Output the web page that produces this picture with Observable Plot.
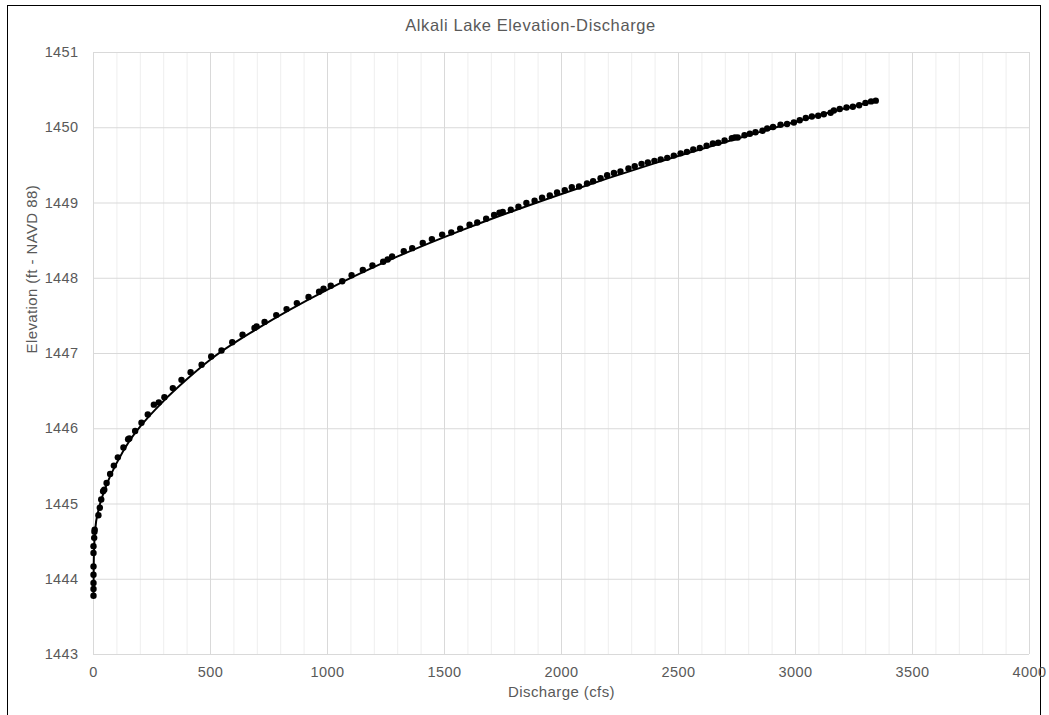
<!DOCTYPE html>
<html>
<head>
<meta charset="utf-8">
<script src="https://cdn.jsdelivr.net/npm/d3@7"></script>
<script src="https://cdn.jsdelivr.net/npm/@observablehq/plot@0.6"></script>
<style>
  html, body { margin: 0; padding: 0; background: #fff; overflow: hidden; }
  body { width: 1049px; height: 715px; position: relative; font-family: "Liberation Sans", Arial, sans-serif; }
  #frame { position: absolute; left: 7px; top: 5px; width: 1034px; height: 730px; border: 1px solid #000; box-sizing: border-box; }
  #title { position: absolute; left: 14px; width: 1033px; top: 16px; text-align: center; font-size: 16.5px; letter-spacing: 0.6px; color: #595959; }
  #chart { position: absolute; left: 0; top: 0; }
</style>
</head>
<body>
<div id="frame"></div>
<div id="chart"></div>
<div id="title">Alkali Lake Elevation-Discharge</div>
<script>
// Observed points: discharge (cfs) and lake elevation (ft - NAVD 88)
const discharge = [0, 0, 0, 0, 0, 0, 0, 3, 4, 5, 21, 27, 33, 41, 46, 56, 71, 87, 104, 128, 148, 153, 178, 205, 232, 258, 279, 303, 339, 376, 415,
  462, 503, 547, 593, 637, 688, 697, 731, 781, 825, 869, 919, 964, 983, 1014, 1063, 1103, 1151, 1192, 1238, 1257, 1276, 1326, 1362, 1407, 1446,
  1490, 1529, 1567, 1607, 1640, 1678, 1712, 1735, 1749, 1783, 1816, 1850, 1885, 1917, 1950, 1981, 2014, 2044, 2075, 2109, 2135, 2167, 2195,
  2224, 2252, 2286, 2313, 2342, 2369, 2397, 2424, 2452, 2480, 2509, 2536, 2563, 2591, 2620, 2647, 2670, 2697, 2728, 2741, 2753, 2782, 2805,
  2829, 2859, 2879, 2904, 2936, 2964, 2993, 3018, 3044, 3070, 3097, 3121, 3150, 3164, 3189, 3218, 3245, 3272, 3299, 3323, 3343];
const elevation = [1443.78, 1443.87, 1443.95, 1444.06, 1444.17, 1444.35, 1444.44, 1444.55, 1444.63, 1444.66, 1444.85, 1444.95, 1445.06, 1445.17, 1445.19, 1445.28, 1445.40, 1445.51, 1445.62, 1445.75, 1445.86, 1445.87, 1445.97, 1446.08, 1446.19, 1446.32, 1446.35, 1446.42, 1446.54, 1446.65, 1446.75,
  1446.85, 1446.96, 1447.04, 1447.15, 1447.25, 1447.34, 1447.36, 1447.42, 1447.51, 1447.59, 1447.67, 1447.75, 1447.82, 1447.86, 1447.90, 1447.96, 1448.04, 1448.11, 1448.17, 1448.22, 1448.25, 1448.29, 1448.36, 1448.40, 1448.47, 1448.52,
  1448.58, 1448.61, 1448.66, 1448.71, 1448.74, 1448.79, 1448.84, 1448.87, 1448.88, 1448.91, 1448.95, 1449.00, 1449.03, 1449.07, 1449.10, 1449.14, 1449.17, 1449.21, 1449.22, 1449.26, 1449.29, 1449.33, 1449.37,
  1449.40, 1449.42, 1449.46, 1449.49, 1449.52, 1449.54, 1449.56, 1449.58, 1449.60, 1449.63, 1449.66, 1449.68, 1449.71, 1449.73, 1449.76, 1449.79, 1449.80, 1449.83, 1449.86, 1449.87, 1449.87, 1449.90, 1449.92,
  1449.94, 1449.96, 1449.99, 1450.01, 1450.04, 1450.05, 1450.07, 1450.10, 1450.13, 1450.15, 1450.16, 1450.18, 1450.20, 1450.23, 1450.25, 1450.27, 1450.28, 1450.30, 1450.33, 1450.35, 1450.36];

// Trend line
const trendQ = [0, 1, 3, 8, 20, 40, 70, 100, 150, 200, 300, 400, 500, 700, 1000, 1300, 1600, 2000, 2400, 2800, 3200, 3346];
const trendE = [1443.78, 1444.2, 1444.45, 1444.68, 1444.9, 1445.12, 1445.36, 1445.55, 1445.82, 1446.03, 1446.37, 1446.66, 1446.92, 1447.33, 1447.85, 1448.29, 1448.67, 1449.12, 1449.53, 1449.90, 1450.25, 1450.36];

const xMajor = [0, 500, 1000, 1500, 2000, 2500, 3000, 3500, 4000];
const xMinor = d3.range(0, 4001, 100).filter(v => v % 500 !== 0);
const yTicks = [1443, 1444, 1445, 1446, 1447, 1448, 1449, 1450, 1451];

const points = discharge.map((q, i) => ({q, e: elevation[i]}));
const trend = trendQ.map((q, i) => ({q, e: trendE[i]}));

const chart = Plot.plot({
  width: 1049,
  height: 715,
  marginLeft: 93,
  marginRight: 20,
  marginTop: 52,
  marginBottom: 61,
  style: {fontFamily: "'Liberation Sans', Arial, sans-serif", color: "#595959", background: "transparent", letterSpacing: "0.4px"},
  x: {domain: [0, 4000]},
  y: {domain: [1443, 1451]},
  marks: [
    Plot.ruleX(xMinor, {stroke: "#eeeeee", strokeWidth: 1}),
    Plot.ruleX(xMajor, {stroke: "#d9d9d9", strokeWidth: 1}),
    Plot.ruleY(yTicks, {stroke: "#d9d9d9", strokeWidth: 1}),
    Plot.axisX({ticks: xMajor, tickSize: 0, tickPadding: 12, tickFormat: d => String(d), fontSize: 14.5, fill: "#595959", label: null}),
    Plot.axisY({ticks: yTicks, tickSize: 0, tickPadding: 15, tickFormat: d => String(d), fontSize: 14.5, fill: "#595959", label: null}),
    Plot.line(trend, {x: "q", y: "e", stroke: "#000", strokeWidth: 2, curve: "monotone-x"}),
    Plot.dot(points, {x: "q", y: "e", r: 3.2, fill: "#000", stroke: "none"}),
    Plot.text(["Discharge (cfs)"], {frameAnchor: "bottom", dy: 42, text: d => d, fontSize: 15, fill: "#595959"}),
    Plot.text(["Elevation (ft - NAVD 88)"], {frameAnchor: "left", dx: -61, rotate: -90, text: d => d, fontSize: 15, fill: "#595959"})
  ]
});
document.getElementById("chart").appendChild(chart);
</script>
</body>
</html>
